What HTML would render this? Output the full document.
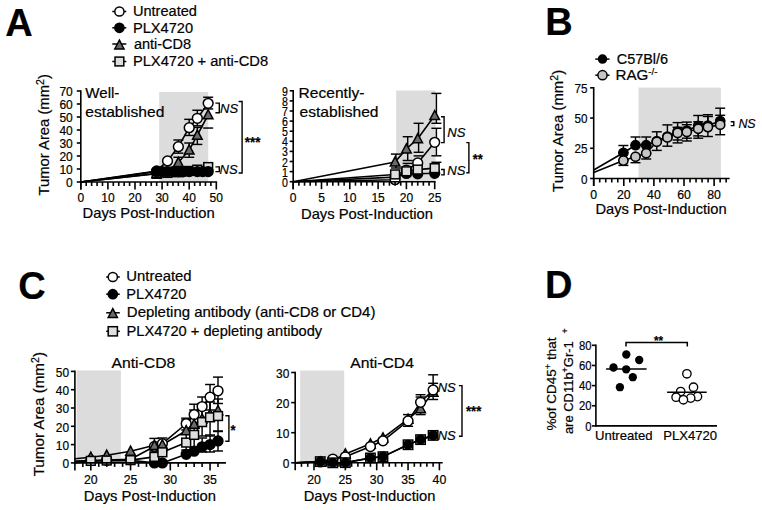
<!DOCTYPE html>
<html><head><meta charset="utf-8"><style>
html,body{margin:0;padding:0;background:#fff;width:762px;height:510px;overflow:hidden;}
body{position:relative;font-family:"Liberation Sans", sans-serif;}
</style></head><body>
<svg width="762" height="510" viewBox="0 0 762 510" style="position:absolute;left:0;top:0">
<style>text{stroke:#000;stroke-width:0.2px;paint-order:stroke}</style>
<g font-family='"Liberation Sans", sans-serif' fill="#000">
<text x="5.30" y="36.20" font-size="38" text-anchor="start" font-weight="bold" font-style="normal" >A</text>
<line x1="112.30" y1="11.50" x2="126.30" y2="11.50" stroke="#000" stroke-width="1.5"/>
<circle cx="119.40" cy="11.50" r="4.60" fill="#fff" stroke="#000" stroke-width="1.5"/>
<text x="0" y="0" font-size="14.5" font-weight="normal" font-style="normal" transform="translate(132.89,15.70) scale(1.0062,1)">Untreated</text>
<line x1="112.30" y1="27.80" x2="126.30" y2="27.80" stroke="#000" stroke-width="1.5"/>
<circle cx="119.40" cy="27.80" r="4.60" fill="#000" stroke="#000" stroke-width="1.5"/>
<text x="0" y="0" font-size="14.5" font-weight="normal" font-style="normal" transform="translate(132.89,32.50) scale(1.0085,1)">PLX4720</text>
<line x1="112.30" y1="44.00" x2="126.30" y2="44.00" stroke="#000" stroke-width="1.5"/>
<polygon points="119.40,40.17 124.00,48.91 114.80,48.91" fill="#6b6b6b" stroke="#000" stroke-width="1.5" stroke-linejoin="miter"/>
<text x="0" y="0" font-size="14.5" font-weight="normal" font-style="normal" transform="translate(133.90,48.60) scale(0.9991,1)">anti-CD8</text>
<line x1="112.30" y1="61.50" x2="126.30" y2="61.50" stroke="#000" stroke-width="1.5"/>
<rect x="115.00" y="57.10" width="8.80" height="8.80" fill="#dedede" stroke="#000" stroke-width="1.5"/>
<text x="0" y="0" font-size="14.5" font-weight="normal" font-style="normal" transform="translate(132.89,65.60) scale(1.0148,1)">PLX4720 + anti-CD8</text>
<rect x="159.20" y="92.00" width="49.00" height="90.00" fill="#dcdcdc"/>
<polyline points="80.80,182.00 156.68,173.81 167.52,172.90 178.36,172.25 189.20,170.95 197.33,169.65 208.17,167.05" fill="none" stroke="#000" stroke-width="1.6" stroke-linejoin="round"/>
<polyline points="80.80,182.00 156.68,171.60 162.10,171.60 167.52,171.60 172.94,171.60 178.36,171.60 183.78,171.60 189.20,171.60 197.33,171.60 202.75,171.60 208.17,171.60" fill="none" stroke="#000" stroke-width="1.6" stroke-linejoin="round"/>
<polyline points="80.80,182.00 156.68,173.55 167.52,171.60 178.36,162.50 189.20,150.02 197.33,135.20 208.17,114.79" fill="none" stroke="#000" stroke-width="1.6" stroke-linejoin="round"/>
<polyline points="80.80,182.00 156.68,170.95 167.52,160.94 178.36,146.64 189.20,127.66 197.33,118.30 208.17,103.35" fill="none" stroke="#000" stroke-width="1.6" stroke-linejoin="round"/>
<line x1="178.36" y1="140.01" x2="178.36" y2="153.14" stroke="#000" stroke-width="1.45"/>
<line x1="173.36" y1="140.01" x2="183.36" y2="140.01" stroke="#000" stroke-width="1.45"/>
<line x1="173.36" y1="153.14" x2="183.36" y2="153.14" stroke="#000" stroke-width="1.45"/>
<line x1="189.20" y1="119.34" x2="189.20" y2="135.46" stroke="#000" stroke-width="1.45"/>
<line x1="184.20" y1="119.34" x2="194.20" y2="119.34" stroke="#000" stroke-width="1.45"/>
<line x1="184.20" y1="135.46" x2="194.20" y2="135.46" stroke="#000" stroke-width="1.45"/>
<line x1="197.33" y1="110.24" x2="197.33" y2="125.84" stroke="#000" stroke-width="1.45"/>
<line x1="192.33" y1="110.24" x2="202.33" y2="110.24" stroke="#000" stroke-width="1.45"/>
<line x1="192.33" y1="125.84" x2="202.33" y2="125.84" stroke="#000" stroke-width="1.45"/>
<line x1="208.17" y1="97.24" x2="208.17" y2="108.94" stroke="#000" stroke-width="1.45"/>
<line x1="203.17" y1="97.24" x2="213.17" y2="97.24" stroke="#000" stroke-width="1.45"/>
<line x1="203.17" y1="108.94" x2="213.17" y2="108.94" stroke="#000" stroke-width="1.45"/>
<line x1="178.36" y1="157.30" x2="178.36" y2="167.70" stroke="#000" stroke-width="1.45"/>
<line x1="173.36" y1="157.30" x2="183.36" y2="157.30" stroke="#000" stroke-width="1.45"/>
<line x1="173.36" y1="167.70" x2="183.36" y2="167.70" stroke="#000" stroke-width="1.45"/>
<line x1="189.20" y1="143.00" x2="189.20" y2="157.30" stroke="#000" stroke-width="1.45"/>
<line x1="184.20" y1="143.00" x2="194.20" y2="143.00" stroke="#000" stroke-width="1.45"/>
<line x1="184.20" y1="157.30" x2="194.20" y2="157.30" stroke="#000" stroke-width="1.45"/>
<line x1="197.33" y1="127.40" x2="197.33" y2="144.43" stroke="#000" stroke-width="1.45"/>
<line x1="192.33" y1="127.40" x2="202.33" y2="127.40" stroke="#000" stroke-width="1.45"/>
<line x1="192.33" y1="144.43" x2="202.33" y2="144.43" stroke="#000" stroke-width="1.45"/>
<line x1="203.17" y1="128.05" x2="213.17" y2="128.05" stroke="#000" stroke-width="1.45"/>
<line x1="203.17" y1="163.80" x2="213.17" y2="163.80" stroke="#000" stroke-width="1.45"/>
<rect x="152.28" y="169.41" width="8.80" height="8.80" fill="#dedede" stroke="#000" stroke-width="1.5"/>
<rect x="163.12" y="168.50" width="8.80" height="8.80" fill="#dedede" stroke="#000" stroke-width="1.5"/>
<rect x="173.96" y="167.85" width="8.80" height="8.80" fill="#dedede" stroke="#000" stroke-width="1.5"/>
<rect x="184.80" y="166.55" width="8.80" height="8.80" fill="#dedede" stroke="#000" stroke-width="1.5"/>
<rect x="192.93" y="165.25" width="8.80" height="8.80" fill="#dedede" stroke="#000" stroke-width="1.5"/>
<rect x="203.77" y="162.65" width="8.80" height="8.80" fill="#dedede" stroke="#000" stroke-width="1.5"/>
<polygon points="156.68,168.51 161.48,177.63 151.88,177.63" fill="#6b6b6b" stroke="#000" stroke-width="1.5" stroke-linejoin="miter"/>
<polygon points="167.52,166.56 172.32,175.68 162.72,175.68" fill="#6b6b6b" stroke="#000" stroke-width="1.5" stroke-linejoin="miter"/>
<polygon points="178.36,157.46 183.16,166.58 173.56,166.58" fill="#6b6b6b" stroke="#000" stroke-width="1.5" stroke-linejoin="miter"/>
<polygon points="189.20,144.98 194.00,154.10 184.40,154.10" fill="#6b6b6b" stroke="#000" stroke-width="1.5" stroke-linejoin="miter"/>
<polygon points="197.33,130.16 202.13,139.28 192.53,139.28" fill="#6b6b6b" stroke="#000" stroke-width="1.5" stroke-linejoin="miter"/>
<polygon points="208.17,109.75 212.97,118.87 203.37,118.87" fill="#6b6b6b" stroke="#000" stroke-width="1.5" stroke-linejoin="miter"/>
<circle cx="156.68" cy="170.95" r="4.90" fill="#fff" stroke="#000" stroke-width="1.5"/>
<circle cx="167.52" cy="160.94" r="4.90" fill="#fff" stroke="#000" stroke-width="1.5"/>
<circle cx="178.36" cy="146.64" r="4.90" fill="#fff" stroke="#000" stroke-width="1.5"/>
<circle cx="189.20" cy="127.66" r="4.90" fill="#fff" stroke="#000" stroke-width="1.5"/>
<circle cx="197.33" cy="118.30" r="4.90" fill="#fff" stroke="#000" stroke-width="1.5"/>
<circle cx="208.17" cy="103.35" r="4.90" fill="#fff" stroke="#000" stroke-width="1.5"/>
<circle cx="156.68" cy="171.60" r="4.90" fill="#000" stroke="#000" stroke-width="1.5"/>
<circle cx="162.10" cy="171.60" r="4.90" fill="#000" stroke="#000" stroke-width="1.5"/>
<circle cx="167.52" cy="171.60" r="4.90" fill="#000" stroke="#000" stroke-width="1.5"/>
<circle cx="172.94" cy="171.60" r="4.90" fill="#000" stroke="#000" stroke-width="1.5"/>
<circle cx="178.36" cy="171.60" r="4.90" fill="#000" stroke="#000" stroke-width="1.5"/>
<circle cx="183.78" cy="171.60" r="4.90" fill="#000" stroke="#000" stroke-width="1.5"/>
<circle cx="189.20" cy="171.60" r="4.90" fill="#000" stroke="#000" stroke-width="1.5"/>
<circle cx="197.33" cy="171.60" r="4.90" fill="#000" stroke="#000" stroke-width="1.5"/>
<circle cx="202.75" cy="171.60" r="4.90" fill="#000" stroke="#000" stroke-width="1.5"/>
<circle cx="208.17" cy="171.60" r="4.90" fill="#000" stroke="#000" stroke-width="1.5"/>
<line x1="80.80" y1="90.20" x2="80.80" y2="189.50" stroke="#000" stroke-width="1.6"/>
<line x1="80.00" y1="182.00" x2="217.10" y2="182.00" stroke="#000" stroke-width="1.6"/>
<line x1="76.80" y1="182.00" x2="80.80" y2="182.00" stroke="#000" stroke-width="1.6"/>
<line x1="76.80" y1="169.00" x2="80.80" y2="169.00" stroke="#000" stroke-width="1.6"/>
<line x1="76.80" y1="156.00" x2="80.80" y2="156.00" stroke="#000" stroke-width="1.6"/>
<line x1="76.80" y1="143.00" x2="80.80" y2="143.00" stroke="#000" stroke-width="1.6"/>
<line x1="76.80" y1="130.00" x2="80.80" y2="130.00" stroke="#000" stroke-width="1.6"/>
<line x1="76.80" y1="117.00" x2="80.80" y2="117.00" stroke="#000" stroke-width="1.6"/>
<line x1="76.80" y1="104.00" x2="80.80" y2="104.00" stroke="#000" stroke-width="1.6"/>
<line x1="76.80" y1="91.00" x2="80.80" y2="91.00" stroke="#000" stroke-width="1.6"/>
<text x="72.80" y="187.10" font-size="12" text-anchor="end" font-weight="normal" font-style="normal" >0</text>
<text x="72.80" y="174.10" font-size="12" text-anchor="end" font-weight="normal" font-style="normal" >10</text>
<text x="72.80" y="161.10" font-size="12" text-anchor="end" font-weight="normal" font-style="normal" >20</text>
<text x="72.80" y="148.10" font-size="12" text-anchor="end" font-weight="normal" font-style="normal" >30</text>
<text x="72.80" y="135.10" font-size="12" text-anchor="end" font-weight="normal" font-style="normal" >40</text>
<text x="72.80" y="122.10" font-size="12" text-anchor="end" font-weight="normal" font-style="normal" >50</text>
<text x="72.80" y="109.10" font-size="12" text-anchor="end" font-weight="normal" font-style="normal" >60</text>
<text x="72.80" y="96.10" font-size="12" text-anchor="end" font-weight="normal" font-style="normal" >70</text>
<line x1="80.80" y1="182.00" x2="80.80" y2="189.50" stroke="#000" stroke-width="1.6"/>
<line x1="107.90" y1="182.00" x2="107.90" y2="189.50" stroke="#000" stroke-width="1.6"/>
<line x1="135.00" y1="182.00" x2="135.00" y2="189.50" stroke="#000" stroke-width="1.6"/>
<line x1="162.10" y1="182.00" x2="162.10" y2="189.50" stroke="#000" stroke-width="1.6"/>
<line x1="189.20" y1="182.00" x2="189.20" y2="189.50" stroke="#000" stroke-width="1.6"/>
<line x1="216.30" y1="182.00" x2="216.30" y2="189.50" stroke="#000" stroke-width="1.6"/>
<line x1="86.22" y1="182.00" x2="86.22" y2="186.00" stroke="#000" stroke-width="1.6"/>
<line x1="91.64" y1="182.00" x2="91.64" y2="186.00" stroke="#000" stroke-width="1.6"/>
<line x1="97.06" y1="182.00" x2="97.06" y2="186.00" stroke="#000" stroke-width="1.6"/>
<line x1="102.48" y1="182.00" x2="102.48" y2="186.00" stroke="#000" stroke-width="1.6"/>
<line x1="113.32" y1="182.00" x2="113.32" y2="186.00" stroke="#000" stroke-width="1.6"/>
<line x1="118.74" y1="182.00" x2="118.74" y2="186.00" stroke="#000" stroke-width="1.6"/>
<line x1="124.16" y1="182.00" x2="124.16" y2="186.00" stroke="#000" stroke-width="1.6"/>
<line x1="129.58" y1="182.00" x2="129.58" y2="186.00" stroke="#000" stroke-width="1.6"/>
<line x1="140.42" y1="182.00" x2="140.42" y2="186.00" stroke="#000" stroke-width="1.6"/>
<line x1="145.84" y1="182.00" x2="145.84" y2="186.00" stroke="#000" stroke-width="1.6"/>
<line x1="151.26" y1="182.00" x2="151.26" y2="186.00" stroke="#000" stroke-width="1.6"/>
<line x1="156.68" y1="182.00" x2="156.68" y2="186.00" stroke="#000" stroke-width="1.6"/>
<line x1="167.52" y1="182.00" x2="167.52" y2="186.00" stroke="#000" stroke-width="1.6"/>
<line x1="172.94" y1="182.00" x2="172.94" y2="186.00" stroke="#000" stroke-width="1.6"/>
<line x1="178.36" y1="182.00" x2="178.36" y2="186.00" stroke="#000" stroke-width="1.6"/>
<line x1="183.78" y1="182.00" x2="183.78" y2="186.00" stroke="#000" stroke-width="1.6"/>
<line x1="194.62" y1="182.00" x2="194.62" y2="186.00" stroke="#000" stroke-width="1.6"/>
<line x1="200.04" y1="182.00" x2="200.04" y2="186.00" stroke="#000" stroke-width="1.6"/>
<line x1="205.46" y1="182.00" x2="205.46" y2="186.00" stroke="#000" stroke-width="1.6"/>
<line x1="210.88" y1="182.00" x2="210.88" y2="186.00" stroke="#000" stroke-width="1.6"/>
<text x="80.80" y="202.00" font-size="12" text-anchor="middle" font-weight="normal" font-style="normal" >0</text>
<text x="107.90" y="202.00" font-size="12" text-anchor="middle" font-weight="normal" font-style="normal" >10</text>
<text x="135.00" y="202.00" font-size="12" text-anchor="middle" font-weight="normal" font-style="normal" >20</text>
<text x="162.10" y="202.00" font-size="12" text-anchor="middle" font-weight="normal" font-style="normal" >30</text>
<text x="189.20" y="202.00" font-size="12" text-anchor="middle" font-weight="normal" font-style="normal" >40</text>
<text x="216.30" y="202.00" font-size="12" text-anchor="middle" font-weight="normal" font-style="normal" >50</text>
<text x="0" y="0" font-size="14.3" font-weight="normal" font-style="normal" transform="translate(85.30,97.90) scale(1.0541,1)">Well-</text>
<text x="0" y="0" font-size="14.3" font-weight="normal" font-style="normal" transform="translate(85.30,117.00) scale(1.0929,1)">established</text>
<text x="0" y="0" font-size="14.6" font-weight="normal" font-style="normal" transform="translate(82.59,217.60) scale(1.0110,1)">Days Post-Induction</text>
<text x="0" y="0" font-size="14.8" text-anchor="middle" transform="translate(49.20,134.80) rotate(-90)">Tumor Area (mm<tspan dy="-4.8" font-size="10.6">2</tspan><tspan dy="4.8">)</tspan></text>
<polyline points="215.40,103.10 219.30,103.10 219.30,112.80 215.40,112.80" fill="none" stroke="#000" stroke-width="1.4" stroke-linejoin="miter"/>
<text x="0" y="0" font-size="12.8" font-weight="normal" font-style="italic" transform="translate(220.10,113.40) scale(1.0142,1)">NS</text>
<polyline points="215.40,166.90 219.30,166.90 219.30,171.60 215.40,171.60" fill="none" stroke="#000" stroke-width="1.4" stroke-linejoin="miter"/>
<text x="0" y="0" font-size="12.8" font-weight="normal" font-style="italic" transform="translate(219.60,173.80) scale(1.0142,1)">NS</text>
<polyline points="238.60,101.50 242.10,101.50 242.10,173.00 238.60,173.00" fill="none" stroke="#000" stroke-width="1.4" stroke-linejoin="miter"/>
<text x="0" y="0" font-size="14" font-weight="bold" font-style="normal" transform="translate(244.80,147.00) scale(0.9588,1)">***</text>
<rect x="396.20" y="90.50" width="39.40" height="91.20" fill="#dcdcdc"/>
<polyline points="293.20,181.70 395.08,177.16 406.40,173.42 417.72,173.82 434.70,173.32" fill="none" stroke="#000" stroke-width="1.6" stroke-linejoin="round"/>
<polyline points="293.20,181.70 395.08,174.43 406.40,171.30 417.72,169.58 434.70,168.17" fill="none" stroke="#000" stroke-width="1.6" stroke-linejoin="round"/>
<polyline points="293.20,181.70 395.08,179.68 406.40,170.08 417.72,163.01 434.70,142.31" fill="none" stroke="#000" stroke-width="1.6" stroke-linejoin="round"/>
<polyline points="293.20,181.70 395.08,162.00 406.40,148.88 417.72,138.77 434.70,115.54" fill="none" stroke="#000" stroke-width="1.6" stroke-linejoin="round"/>
<line x1="395.90" y1="154.10" x2="395.90" y2="168.00" stroke="#000" stroke-width="1.45"/>
<line x1="390.90" y1="154.10" x2="400.90" y2="154.10" stroke="#000" stroke-width="1.45"/>
<line x1="390.90" y1="168.00" x2="400.90" y2="168.00" stroke="#000" stroke-width="1.45"/>
<line x1="407.70" y1="136.70" x2="407.70" y2="160.50" stroke="#000" stroke-width="1.45"/>
<line x1="402.70" y1="136.70" x2="412.70" y2="136.70" stroke="#000" stroke-width="1.45"/>
<line x1="402.70" y1="160.50" x2="412.70" y2="160.50" stroke="#000" stroke-width="1.45"/>
<line x1="418.60" y1="123.30" x2="418.60" y2="152.30" stroke="#000" stroke-width="1.45"/>
<line x1="413.60" y1="123.30" x2="423.60" y2="123.30" stroke="#000" stroke-width="1.45"/>
<line x1="413.60" y1="152.30" x2="423.60" y2="152.30" stroke="#000" stroke-width="1.45"/>
<line x1="436.40" y1="93.40" x2="436.40" y2="123.30" stroke="#000" stroke-width="1.45"/>
<line x1="431.40" y1="93.40" x2="441.40" y2="93.40" stroke="#000" stroke-width="1.45"/>
<line x1="431.40" y1="123.30" x2="441.40" y2="123.30" stroke="#000" stroke-width="1.45"/>
<line x1="402.70" y1="163.40" x2="412.70" y2="163.40" stroke="#000" stroke-width="1.45"/>
<line x1="413.60" y1="155.90" x2="423.60" y2="155.90" stroke="#000" stroke-width="1.45"/>
<line x1="436.40" y1="128.30" x2="436.40" y2="155.80" stroke="#000" stroke-width="1.45"/>
<line x1="431.40" y1="128.30" x2="441.40" y2="128.30" stroke="#000" stroke-width="1.45"/>
<line x1="431.40" y1="155.80" x2="441.40" y2="155.80" stroke="#000" stroke-width="1.45"/>
<line x1="431.40" y1="162.30" x2="441.40" y2="162.30" stroke="#000" stroke-width="1.45"/>
<circle cx="395.08" cy="177.16" r="4.90" fill="#000" stroke="#000" stroke-width="1.5"/>
<circle cx="406.40" cy="173.42" r="4.90" fill="#000" stroke="#000" stroke-width="1.5"/>
<circle cx="417.72" cy="173.82" r="4.90" fill="#000" stroke="#000" stroke-width="1.5"/>
<circle cx="434.70" cy="173.32" r="4.90" fill="#000" stroke="#000" stroke-width="1.5"/>
<circle cx="395.08" cy="179.68" r="4.90" fill="#fff" stroke="#000" stroke-width="1.5"/>
<circle cx="406.40" cy="170.08" r="4.90" fill="#fff" stroke="#000" stroke-width="1.5"/>
<circle cx="417.72" cy="163.01" r="4.90" fill="#fff" stroke="#000" stroke-width="1.5"/>
<circle cx="434.70" cy="142.31" r="4.90" fill="#fff" stroke="#000" stroke-width="1.5"/>
<rect x="390.68" y="170.03" width="8.80" height="8.80" fill="#dedede" stroke="#000" stroke-width="1.5"/>
<rect x="402.00" y="166.90" width="8.80" height="8.80" fill="#dedede" stroke="#000" stroke-width="1.5"/>
<rect x="413.32" y="165.18" width="8.80" height="8.80" fill="#dedede" stroke="#000" stroke-width="1.5"/>
<rect x="430.30" y="163.77" width="8.80" height="8.80" fill="#dedede" stroke="#000" stroke-width="1.5"/>
<polygon points="395.08,156.97 399.88,166.09 390.28,166.09" fill="#6b6b6b" stroke="#000" stroke-width="1.5" stroke-linejoin="miter"/>
<polygon points="406.40,143.84 411.20,152.96 401.60,152.96" fill="#6b6b6b" stroke="#000" stroke-width="1.5" stroke-linejoin="miter"/>
<polygon points="417.72,133.73 422.52,142.85 412.92,142.85" fill="#6b6b6b" stroke="#000" stroke-width="1.5" stroke-linejoin="miter"/>
<polygon points="434.70,110.50 439.50,119.62 429.90,119.62" fill="#6b6b6b" stroke="#000" stroke-width="1.5" stroke-linejoin="miter"/>
<line x1="293.20" y1="90.00" x2="293.20" y2="189.20" stroke="#000" stroke-width="1.6"/>
<line x1="292.40" y1="181.70" x2="435.50" y2="181.70" stroke="#000" stroke-width="1.6"/>
<line x1="289.70" y1="181.70" x2="293.20" y2="181.70" stroke="#000" stroke-width="1.6"/>
<line x1="289.70" y1="171.60" x2="293.20" y2="171.60" stroke="#000" stroke-width="1.6"/>
<line x1="289.70" y1="161.50" x2="293.20" y2="161.50" stroke="#000" stroke-width="1.6"/>
<line x1="289.70" y1="151.40" x2="293.20" y2="151.40" stroke="#000" stroke-width="1.6"/>
<line x1="289.70" y1="141.30" x2="293.20" y2="141.30" stroke="#000" stroke-width="1.6"/>
<line x1="289.70" y1="131.20" x2="293.20" y2="131.20" stroke="#000" stroke-width="1.6"/>
<line x1="289.70" y1="121.10" x2="293.20" y2="121.10" stroke="#000" stroke-width="1.6"/>
<line x1="289.70" y1="111.00" x2="293.20" y2="111.00" stroke="#000" stroke-width="1.6"/>
<line x1="289.70" y1="100.90" x2="293.20" y2="100.90" stroke="#000" stroke-width="1.6"/>
<line x1="289.70" y1="90.80" x2="293.20" y2="90.80" stroke="#000" stroke-width="1.6"/>
<text x="0" y="0" font-size="12" text-anchor="end" font-weight="normal" font-style="normal" transform="translate(288.00,186.70) scale(0.88,1)" >0</text>
<text x="0" y="0" font-size="12" text-anchor="end" font-weight="normal" font-style="normal" transform="translate(288.00,176.60) scale(0.88,1)" >1</text>
<text x="0" y="0" font-size="12" text-anchor="end" font-weight="normal" font-style="normal" transform="translate(288.00,166.50) scale(0.88,1)" >2</text>
<text x="0" y="0" font-size="12" text-anchor="end" font-weight="normal" font-style="normal" transform="translate(288.00,156.40) scale(0.88,1)" >3</text>
<text x="0" y="0" font-size="12" text-anchor="end" font-weight="normal" font-style="normal" transform="translate(288.00,146.30) scale(0.88,1)" >4</text>
<text x="0" y="0" font-size="12" text-anchor="end" font-weight="normal" font-style="normal" transform="translate(288.00,136.20) scale(0.88,1)" >5</text>
<text x="0" y="0" font-size="12" text-anchor="end" font-weight="normal" font-style="normal" transform="translate(288.00,126.10) scale(0.88,1)" >6</text>
<text x="0" y="0" font-size="12" text-anchor="end" font-weight="normal" font-style="normal" transform="translate(288.00,116.00) scale(0.88,1)" >7</text>
<text x="0" y="0" font-size="12" text-anchor="end" font-weight="normal" font-style="normal" transform="translate(288.00,105.90) scale(0.88,1)" >8</text>
<text x="0" y="0" font-size="12" text-anchor="end" font-weight="normal" font-style="normal" transform="translate(288.00,95.80) scale(0.88,1)" >9</text>
<line x1="293.20" y1="181.70" x2="293.20" y2="189.20" stroke="#000" stroke-width="1.6"/>
<line x1="321.50" y1="181.70" x2="321.50" y2="189.20" stroke="#000" stroke-width="1.6"/>
<line x1="349.80" y1="181.70" x2="349.80" y2="189.20" stroke="#000" stroke-width="1.6"/>
<line x1="378.10" y1="181.70" x2="378.10" y2="189.20" stroke="#000" stroke-width="1.6"/>
<line x1="406.40" y1="181.70" x2="406.40" y2="189.20" stroke="#000" stroke-width="1.6"/>
<line x1="434.70" y1="181.70" x2="434.70" y2="189.20" stroke="#000" stroke-width="1.6"/>
<line x1="298.86" y1="181.70" x2="298.86" y2="185.70" stroke="#000" stroke-width="1.6"/>
<line x1="304.52" y1="181.70" x2="304.52" y2="185.70" stroke="#000" stroke-width="1.6"/>
<line x1="310.18" y1="181.70" x2="310.18" y2="185.70" stroke="#000" stroke-width="1.6"/>
<line x1="315.84" y1="181.70" x2="315.84" y2="185.70" stroke="#000" stroke-width="1.6"/>
<line x1="327.16" y1="181.70" x2="327.16" y2="185.70" stroke="#000" stroke-width="1.6"/>
<line x1="332.82" y1="181.70" x2="332.82" y2="185.70" stroke="#000" stroke-width="1.6"/>
<line x1="338.48" y1="181.70" x2="338.48" y2="185.70" stroke="#000" stroke-width="1.6"/>
<line x1="344.14" y1="181.70" x2="344.14" y2="185.70" stroke="#000" stroke-width="1.6"/>
<line x1="355.46" y1="181.70" x2="355.46" y2="185.70" stroke="#000" stroke-width="1.6"/>
<line x1="361.12" y1="181.70" x2="361.12" y2="185.70" stroke="#000" stroke-width="1.6"/>
<line x1="366.78" y1="181.70" x2="366.78" y2="185.70" stroke="#000" stroke-width="1.6"/>
<line x1="372.44" y1="181.70" x2="372.44" y2="185.70" stroke="#000" stroke-width="1.6"/>
<line x1="383.76" y1="181.70" x2="383.76" y2="185.70" stroke="#000" stroke-width="1.6"/>
<line x1="389.42" y1="181.70" x2="389.42" y2="185.70" stroke="#000" stroke-width="1.6"/>
<line x1="395.08" y1="181.70" x2="395.08" y2="185.70" stroke="#000" stroke-width="1.6"/>
<line x1="400.74" y1="181.70" x2="400.74" y2="185.70" stroke="#000" stroke-width="1.6"/>
<line x1="412.06" y1="181.70" x2="412.06" y2="185.70" stroke="#000" stroke-width="1.6"/>
<line x1="417.72" y1="181.70" x2="417.72" y2="185.70" stroke="#000" stroke-width="1.6"/>
<line x1="423.38" y1="181.70" x2="423.38" y2="185.70" stroke="#000" stroke-width="1.6"/>
<line x1="429.04" y1="181.70" x2="429.04" y2="185.70" stroke="#000" stroke-width="1.6"/>
<text x="293.20" y="202.30" font-size="12" text-anchor="middle" font-weight="normal" font-style="normal" >0</text>
<text x="321.50" y="202.30" font-size="12" text-anchor="middle" font-weight="normal" font-style="normal" >5</text>
<text x="349.80" y="202.30" font-size="12" text-anchor="middle" font-weight="normal" font-style="normal" >10</text>
<text x="378.10" y="202.30" font-size="12" text-anchor="middle" font-weight="normal" font-style="normal" >15</text>
<text x="406.40" y="202.30" font-size="12" text-anchor="middle" font-weight="normal" font-style="normal" >20</text>
<text x="434.70" y="202.30" font-size="12" text-anchor="middle" font-weight="normal" font-style="normal" >25</text>
<text x="0" y="0" font-size="14.3" font-weight="normal" font-style="normal" transform="translate(298.61,98.00) scale(1.0902,1)">Recently-</text>
<text x="0" y="0" font-size="14.3" font-weight="normal" font-style="normal" transform="translate(299.50,116.90) scale(1.0929,1)">established</text>
<text x="0" y="0" font-size="14.6" font-weight="normal" font-style="normal" transform="translate(300.99,218.50) scale(1.0110,1)">Days Post-Induction</text>
<polyline points="441.00,116.70 444.10,116.70 444.10,142.60 441.00,142.60" fill="none" stroke="#000" stroke-width="1.4" stroke-linejoin="miter"/>
<text x="0" y="0" font-size="12.8" font-weight="normal" font-style="italic" transform="translate(447.30,136.50) scale(1.0197,1)">NS</text>
<polyline points="441.00,169.50 444.10,169.50 444.10,174.90 441.00,174.90" fill="none" stroke="#000" stroke-width="1.4" stroke-linejoin="miter"/>
<text x="0" y="0" font-size="12.8" font-weight="normal" font-style="italic" transform="translate(447.30,174.90) scale(1.0197,1)">NS</text>
<polyline points="466.30,142.60 468.90,142.60 468.90,172.80 466.30,172.80" fill="none" stroke="#000" stroke-width="1.4" stroke-linejoin="miter"/>
<text x="0" y="0" font-size="14" font-weight="bold" font-style="normal" transform="translate(472.80,164.30) scale(0.9172,1)">**</text>
<text x="545.30" y="35.40" font-size="38" text-anchor="start" font-weight="bold" font-style="normal" >B</text>
<line x1="595.30" y1="59.10" x2="609.50" y2="59.10" stroke="#000" stroke-width="1.5"/>
<circle cx="602.50" cy="59.10" r="4.00" fill="#000" stroke="#000" stroke-width="1.5"/>
<line x1="595.30" y1="75.20" x2="609.50" y2="75.20" stroke="#000" stroke-width="1.5"/>
<circle cx="602.50" cy="75.20" r="4.60" fill="#c6c6c6" stroke="#000" stroke-width="1.5"/>
<text x="0" y="0" font-size="13.8" font-weight="normal" font-style="normal" transform="translate(616.70,63.70) scale(1.0484,1)">C57Bl/6</text>
<text x="0" y="0" font-size="13.8" font-weight="normal" font-style="normal" transform="translate(615.50,80.10) scale(1.1006,1)">RAG</text>
<text x="0" y="0" font-size="9.5" font-weight="normal" font-style="normal" transform="translate(648.30,74.60) scale(1.0224,1)">-/-</text>
<rect x="638.50" y="87.60" width="82.40" height="90.90" fill="#dcdcdc"/>
<polyline points="593.70,170.00 623.40,152.80 635.50,145.20 646.20,145.20 656.80,141.00 667.40,136.50 677.60,131.50 686.80,130.50 698.20,125.80 707.90,125.50 720.20,121.00" fill="none" stroke="#000" stroke-width="1.6" stroke-linejoin="round"/>
<polyline points="593.70,172.60 623.40,160.60 635.50,156.70 646.20,153.20 656.80,141.80 667.40,137.40 677.60,132.90 686.80,132.00 698.20,128.80 707.90,127.10 720.20,124.70" fill="none" stroke="#000" stroke-width="1.6" stroke-linejoin="round"/>
<line x1="623.40" y1="145.50" x2="623.40" y2="152.80" stroke="#000" stroke-width="1.45"/>
<line x1="618.40" y1="145.50" x2="628.40" y2="145.50" stroke="#000" stroke-width="1.45"/>
<line x1="618.40" y1="152.80" x2="628.40" y2="152.80" stroke="#000" stroke-width="1.45"/>
<line x1="635.50" y1="137.00" x2="635.50" y2="145.20" stroke="#000" stroke-width="1.45"/>
<line x1="630.50" y1="137.00" x2="640.50" y2="137.00" stroke="#000" stroke-width="1.45"/>
<line x1="630.50" y1="145.20" x2="640.50" y2="145.20" stroke="#000" stroke-width="1.45"/>
<line x1="646.20" y1="137.00" x2="646.20" y2="145.20" stroke="#000" stroke-width="1.45"/>
<line x1="641.20" y1="137.00" x2="651.20" y2="137.00" stroke="#000" stroke-width="1.45"/>
<line x1="641.20" y1="145.20" x2="651.20" y2="145.20" stroke="#000" stroke-width="1.45"/>
<line x1="656.80" y1="131.80" x2="656.80" y2="141.00" stroke="#000" stroke-width="1.45"/>
<line x1="651.80" y1="131.80" x2="661.80" y2="131.80" stroke="#000" stroke-width="1.45"/>
<line x1="651.80" y1="141.00" x2="661.80" y2="141.00" stroke="#000" stroke-width="1.45"/>
<line x1="667.40" y1="124.90" x2="667.40" y2="136.50" stroke="#000" stroke-width="1.45"/>
<line x1="662.40" y1="124.90" x2="672.40" y2="124.90" stroke="#000" stroke-width="1.45"/>
<line x1="662.40" y1="136.50" x2="672.40" y2="136.50" stroke="#000" stroke-width="1.45"/>
<line x1="677.60" y1="127.30" x2="677.60" y2="140.00" stroke="#000" stroke-width="1.45"/>
<line x1="672.60" y1="127.30" x2="682.60" y2="127.30" stroke="#000" stroke-width="1.45"/>
<line x1="672.60" y1="140.00" x2="682.60" y2="140.00" stroke="#000" stroke-width="1.45"/>
<line x1="686.80" y1="124.70" x2="686.80" y2="138.20" stroke="#000" stroke-width="1.45"/>
<line x1="681.80" y1="124.70" x2="691.80" y2="124.70" stroke="#000" stroke-width="1.45"/>
<line x1="681.80" y1="138.20" x2="691.80" y2="138.20" stroke="#000" stroke-width="1.45"/>
<line x1="698.20" y1="115.50" x2="698.20" y2="135.90" stroke="#000" stroke-width="1.45"/>
<line x1="693.20" y1="115.50" x2="703.20" y2="115.50" stroke="#000" stroke-width="1.45"/>
<line x1="693.20" y1="135.90" x2="703.20" y2="135.90" stroke="#000" stroke-width="1.45"/>
<line x1="707.90" y1="116.50" x2="707.90" y2="125.50" stroke="#000" stroke-width="1.45"/>
<line x1="702.90" y1="116.50" x2="712.90" y2="116.50" stroke="#000" stroke-width="1.45"/>
<line x1="702.90" y1="125.50" x2="712.90" y2="125.50" stroke="#000" stroke-width="1.45"/>
<line x1="720.20" y1="108.20" x2="720.20" y2="121.00" stroke="#000" stroke-width="1.45"/>
<line x1="715.20" y1="108.20" x2="725.20" y2="108.20" stroke="#000" stroke-width="1.45"/>
<line x1="715.20" y1="121.00" x2="725.20" y2="121.00" stroke="#000" stroke-width="1.45"/>
<line x1="623.40" y1="160.60" x2="623.40" y2="165.40" stroke="#000" stroke-width="1.45"/>
<line x1="618.40" y1="160.60" x2="628.40" y2="160.60" stroke="#000" stroke-width="1.45"/>
<line x1="618.40" y1="165.40" x2="628.40" y2="165.40" stroke="#000" stroke-width="1.45"/>
<line x1="635.50" y1="156.70" x2="635.50" y2="162.70" stroke="#000" stroke-width="1.45"/>
<line x1="630.50" y1="156.70" x2="640.50" y2="156.70" stroke="#000" stroke-width="1.45"/>
<line x1="630.50" y1="162.70" x2="640.50" y2="162.70" stroke="#000" stroke-width="1.45"/>
<line x1="646.20" y1="153.20" x2="646.20" y2="159.00" stroke="#000" stroke-width="1.45"/>
<line x1="641.20" y1="153.20" x2="651.20" y2="153.20" stroke="#000" stroke-width="1.45"/>
<line x1="641.20" y1="159.00" x2="651.20" y2="159.00" stroke="#000" stroke-width="1.45"/>
<line x1="656.80" y1="141.80" x2="656.80" y2="150.40" stroke="#000" stroke-width="1.45"/>
<line x1="651.80" y1="141.80" x2="661.80" y2="141.80" stroke="#000" stroke-width="1.45"/>
<line x1="651.80" y1="150.40" x2="661.80" y2="150.40" stroke="#000" stroke-width="1.45"/>
<line x1="667.40" y1="137.40" x2="667.40" y2="146.20" stroke="#000" stroke-width="1.45"/>
<line x1="662.40" y1="137.40" x2="672.40" y2="137.40" stroke="#000" stroke-width="1.45"/>
<line x1="662.40" y1="146.20" x2="672.40" y2="146.20" stroke="#000" stroke-width="1.45"/>
<line x1="677.60" y1="122.60" x2="677.60" y2="142.90" stroke="#000" stroke-width="1.45"/>
<line x1="672.60" y1="122.60" x2="682.60" y2="122.60" stroke="#000" stroke-width="1.45"/>
<line x1="672.60" y1="142.90" x2="682.60" y2="142.90" stroke="#000" stroke-width="1.45"/>
<line x1="686.80" y1="122.10" x2="686.80" y2="141.00" stroke="#000" stroke-width="1.45"/>
<line x1="681.80" y1="122.10" x2="691.80" y2="122.10" stroke="#000" stroke-width="1.45"/>
<line x1="681.80" y1="141.00" x2="691.80" y2="141.00" stroke="#000" stroke-width="1.45"/>
<line x1="698.20" y1="121.80" x2="698.20" y2="138.20" stroke="#000" stroke-width="1.45"/>
<line x1="693.20" y1="121.80" x2="703.20" y2="121.80" stroke="#000" stroke-width="1.45"/>
<line x1="693.20" y1="138.20" x2="703.20" y2="138.20" stroke="#000" stroke-width="1.45"/>
<line x1="707.90" y1="114.70" x2="707.90" y2="136.50" stroke="#000" stroke-width="1.45"/>
<line x1="702.90" y1="114.70" x2="712.90" y2="114.70" stroke="#000" stroke-width="1.45"/>
<line x1="702.90" y1="136.50" x2="712.90" y2="136.50" stroke="#000" stroke-width="1.45"/>
<line x1="720.20" y1="115.30" x2="720.20" y2="134.70" stroke="#000" stroke-width="1.45"/>
<line x1="715.20" y1="115.30" x2="725.20" y2="115.30" stroke="#000" stroke-width="1.45"/>
<line x1="715.20" y1="134.70" x2="725.20" y2="134.70" stroke="#000" stroke-width="1.45"/>
<circle cx="623.40" cy="152.80" r="4.60" fill="#000" stroke="#000" stroke-width="1.5"/>
<circle cx="635.50" cy="145.20" r="4.60" fill="#000" stroke="#000" stroke-width="1.5"/>
<circle cx="646.20" cy="145.20" r="4.60" fill="#000" stroke="#000" stroke-width="1.5"/>
<circle cx="656.80" cy="141.00" r="4.60" fill="#000" stroke="#000" stroke-width="1.5"/>
<circle cx="667.40" cy="136.50" r="4.60" fill="#000" stroke="#000" stroke-width="1.5"/>
<circle cx="677.60" cy="131.50" r="4.60" fill="#000" stroke="#000" stroke-width="1.5"/>
<circle cx="686.80" cy="130.50" r="4.60" fill="#000" stroke="#000" stroke-width="1.5"/>
<circle cx="698.20" cy="125.80" r="4.60" fill="#000" stroke="#000" stroke-width="1.5"/>
<circle cx="707.90" cy="125.50" r="4.60" fill="#000" stroke="#000" stroke-width="1.5"/>
<circle cx="720.20" cy="121.00" r="4.60" fill="#000" stroke="#000" stroke-width="1.5"/>
<circle cx="623.40" cy="160.60" r="4.60" fill="#c6c6c6" stroke="#000" stroke-width="1.6"/>
<circle cx="635.50" cy="156.70" r="4.60" fill="#c6c6c6" stroke="#000" stroke-width="1.6"/>
<circle cx="646.20" cy="153.20" r="4.60" fill="#c6c6c6" stroke="#000" stroke-width="1.6"/>
<circle cx="656.80" cy="141.80" r="4.60" fill="#c6c6c6" stroke="#000" stroke-width="1.6"/>
<circle cx="667.40" cy="137.40" r="4.60" fill="#c6c6c6" stroke="#000" stroke-width="1.6"/>
<circle cx="677.60" cy="132.90" r="4.60" fill="#c6c6c6" stroke="#000" stroke-width="1.6"/>
<circle cx="686.80" cy="132.00" r="4.60" fill="#c6c6c6" stroke="#000" stroke-width="1.6"/>
<circle cx="698.20" cy="128.80" r="4.60" fill="#c6c6c6" stroke="#000" stroke-width="1.6"/>
<circle cx="707.90" cy="127.10" r="4.60" fill="#c6c6c6" stroke="#000" stroke-width="1.6"/>
<circle cx="720.20" cy="124.70" r="4.60" fill="#c6c6c6" stroke="#000" stroke-width="1.6"/>
<line x1="593.70" y1="87.02" x2="593.70" y2="186.00" stroke="#000" stroke-width="1.6"/>
<line x1="592.90" y1="178.50" x2="729.65" y2="178.50" stroke="#000" stroke-width="1.6"/>
<line x1="590.10" y1="178.50" x2="593.70" y2="178.50" stroke="#000" stroke-width="1.6"/>
<line x1="590.10" y1="148.28" x2="593.70" y2="148.28" stroke="#000" stroke-width="1.6"/>
<line x1="590.10" y1="118.05" x2="593.70" y2="118.05" stroke="#000" stroke-width="1.6"/>
<line x1="590.10" y1="87.82" x2="593.70" y2="87.82" stroke="#000" stroke-width="1.6"/>
<text x="0" y="0" font-size="12.3" text-anchor="end" font-weight="normal" font-style="normal" transform="translate(587.40,183.60) scale(0.95,1)" >0</text>
<text x="0" y="0" font-size="12.3" text-anchor="end" font-weight="normal" font-style="normal" transform="translate(587.40,153.38) scale(0.95,1)" >25</text>
<text x="0" y="0" font-size="12.3" text-anchor="end" font-weight="normal" font-style="normal" transform="translate(587.40,123.15) scale(0.95,1)" >50</text>
<text x="0" y="0" font-size="12.3" text-anchor="end" font-weight="normal" font-style="normal" transform="translate(587.40,92.92) scale(0.95,1)" >75</text>
<line x1="593.70" y1="178.50" x2="593.70" y2="186.00" stroke="#000" stroke-width="1.6"/>
<line x1="623.80" y1="178.50" x2="623.80" y2="186.00" stroke="#000" stroke-width="1.6"/>
<line x1="653.90" y1="178.50" x2="653.90" y2="186.00" stroke="#000" stroke-width="1.6"/>
<line x1="684.00" y1="178.50" x2="684.00" y2="186.00" stroke="#000" stroke-width="1.6"/>
<line x1="714.10" y1="178.50" x2="714.10" y2="186.00" stroke="#000" stroke-width="1.6"/>
<line x1="599.72" y1="178.50" x2="599.72" y2="182.50" stroke="#000" stroke-width="1.6"/>
<line x1="605.74" y1="178.50" x2="605.74" y2="182.50" stroke="#000" stroke-width="1.6"/>
<line x1="611.76" y1="178.50" x2="611.76" y2="182.50" stroke="#000" stroke-width="1.6"/>
<line x1="617.78" y1="178.50" x2="617.78" y2="182.50" stroke="#000" stroke-width="1.6"/>
<line x1="629.82" y1="178.50" x2="629.82" y2="182.50" stroke="#000" stroke-width="1.6"/>
<line x1="635.84" y1="178.50" x2="635.84" y2="182.50" stroke="#000" stroke-width="1.6"/>
<line x1="641.86" y1="178.50" x2="641.86" y2="182.50" stroke="#000" stroke-width="1.6"/>
<line x1="647.88" y1="178.50" x2="647.88" y2="182.50" stroke="#000" stroke-width="1.6"/>
<line x1="659.92" y1="178.50" x2="659.92" y2="182.50" stroke="#000" stroke-width="1.6"/>
<line x1="665.94" y1="178.50" x2="665.94" y2="182.50" stroke="#000" stroke-width="1.6"/>
<line x1="671.96" y1="178.50" x2="671.96" y2="182.50" stroke="#000" stroke-width="1.6"/>
<line x1="677.98" y1="178.50" x2="677.98" y2="182.50" stroke="#000" stroke-width="1.6"/>
<line x1="690.02" y1="178.50" x2="690.02" y2="182.50" stroke="#000" stroke-width="1.6"/>
<line x1="696.04" y1="178.50" x2="696.04" y2="182.50" stroke="#000" stroke-width="1.6"/>
<line x1="702.06" y1="178.50" x2="702.06" y2="182.50" stroke="#000" stroke-width="1.6"/>
<line x1="708.08" y1="178.50" x2="708.08" y2="182.50" stroke="#000" stroke-width="1.6"/>
<line x1="720.12" y1="178.50" x2="720.12" y2="182.50" stroke="#000" stroke-width="1.6"/>
<line x1="726.14" y1="178.50" x2="726.14" y2="182.50" stroke="#000" stroke-width="1.6"/>
<text x="593.70" y="198.50" font-size="12.3" text-anchor="middle" font-weight="normal" font-style="normal" >0</text>
<text x="623.80" y="198.50" font-size="12.3" text-anchor="middle" font-weight="normal" font-style="normal" >20</text>
<text x="653.90" y="198.50" font-size="12.3" text-anchor="middle" font-weight="normal" font-style="normal" >40</text>
<text x="684.00" y="198.50" font-size="12.3" text-anchor="middle" font-weight="normal" font-style="normal" >60</text>
<text x="714.10" y="198.50" font-size="12.3" text-anchor="middle" font-weight="normal" font-style="normal" >80</text>
<text x="0" y="0" font-size="14.6" font-weight="normal" font-style="normal" transform="translate(595.39,214.00) scale(1.0063,1)">Days Post-Induction</text>
<text x="0" y="0" font-size="14.9" text-anchor="middle" transform="translate(562.50,130.90) rotate(-90)">Tumor Area (mm<tspan dy="-4.8" font-size="10.6">2</tspan><tspan dy="4.8">)</tspan></text>
<polyline points="730.70,121.70 733.80,121.70 733.80,125.60 730.70,125.60" fill="none" stroke="#000" stroke-width="1.4" stroke-linejoin="miter"/>
<text x="0" y="0" font-size="12.8" font-weight="normal" font-style="italic" transform="translate(738.40,128.30) scale(0.9703,1)">NS</text>
<text x="18.30" y="298.80" font-size="38" text-anchor="start" font-weight="bold" font-style="normal" >C</text>
<line x1="106.20" y1="277.00" x2="119.80" y2="277.00" stroke="#000" stroke-width="1.5"/>
<circle cx="112.80" cy="277.00" r="4.60" fill="#fff" stroke="#000" stroke-width="1.5"/>
<text x="0" y="0" font-size="14.2" font-weight="normal" font-style="normal" transform="translate(126.35,281.30) scale(1.0461,1)">Untreated</text>
<line x1="106.20" y1="294.20" x2="119.80" y2="294.20" stroke="#000" stroke-width="1.5"/>
<circle cx="112.80" cy="294.20" r="4.60" fill="#000" stroke="#000" stroke-width="1.5"/>
<text x="0" y="0" font-size="14.2" font-weight="normal" font-style="normal" transform="translate(126.37,299.40) scale(1.0280,1)">PLX4720</text>
<line x1="106.20" y1="312.80" x2="119.80" y2="312.80" stroke="#000" stroke-width="1.5"/>
<polygon points="112.80,308.67 117.40,317.41 108.20,317.41" fill="#6b6b6b" stroke="#000" stroke-width="1.5" stroke-linejoin="miter"/>
<text x="0" y="0" font-size="14.2" font-weight="normal" font-style="normal" transform="translate(126.85,317.40) scale(1.0540,1)">Depleting antibody (anti-CD8 or CD4)</text>
<line x1="106.20" y1="331.30" x2="119.80" y2="331.30" stroke="#000" stroke-width="1.5"/>
<rect x="108.20" y="326.70" width="9.20" height="9.20" fill="#dedede" stroke="#000" stroke-width="1.5"/>
<text x="0" y="0" font-size="14.2" font-weight="normal" font-style="normal" transform="translate(126.57,335.60) scale(1.0315,1)">PLX4720 + depleting antibody</text>
<rect x="76.60" y="370.40" width="44.30" height="92.50" fill="#dcdcdc"/>
<polyline points="74.90,462.90 90.80,461.07 106.70,460.70 130.55,460.34 154.40,462.90 162.35,462.90 186.20,454.30 194.15,451.19 202.10,446.80 210.05,444.60 218.00,440.94" fill="none" stroke="#000" stroke-width="1.6" stroke-linejoin="round"/>
<polyline points="74.90,461.98 90.80,460.89 106.70,460.52 130.55,460.15 154.40,456.86 162.35,452.29 186.20,442.59 194.15,434.90 202.10,422.09 210.05,417.33 218.00,416.05" fill="none" stroke="#000" stroke-width="1.6" stroke-linejoin="round"/>
<polyline points="74.90,458.69 90.80,457.23 106.70,455.21 130.55,451.19 154.40,445.33 162.35,444.78 186.20,430.69 194.15,424.29 202.10,418.98 210.05,414.40 218.00,410.56" fill="none" stroke="#000" stroke-width="1.6" stroke-linejoin="round"/>
<polyline points="74.90,461.07 90.80,460.52 106.70,460.15 130.55,459.24 154.40,446.43 162.35,443.69 186.20,423.74 194.15,414.59 202.10,406.54 210.05,397.20 218.00,390.80" fill="none" stroke="#000" stroke-width="1.6" stroke-linejoin="round"/>
<line x1="186.20" y1="418.20" x2="186.20" y2="430.00" stroke="#000" stroke-width="1.45"/>
<line x1="181.20" y1="418.20" x2="191.20" y2="418.20" stroke="#000" stroke-width="1.45"/>
<line x1="181.20" y1="430.00" x2="191.20" y2="430.00" stroke="#000" stroke-width="1.45"/>
<line x1="194.15" y1="404.20" x2="194.15" y2="426.00" stroke="#000" stroke-width="1.45"/>
<line x1="189.15" y1="404.20" x2="199.15" y2="404.20" stroke="#000" stroke-width="1.45"/>
<line x1="189.15" y1="426.00" x2="199.15" y2="426.00" stroke="#000" stroke-width="1.45"/>
<line x1="202.10" y1="397.00" x2="202.10" y2="418.00" stroke="#000" stroke-width="1.45"/>
<line x1="197.10" y1="397.00" x2="207.10" y2="397.00" stroke="#000" stroke-width="1.45"/>
<line x1="197.10" y1="418.00" x2="207.10" y2="418.00" stroke="#000" stroke-width="1.45"/>
<line x1="210.05" y1="384.50" x2="210.05" y2="410.00" stroke="#000" stroke-width="1.45"/>
<line x1="205.05" y1="384.50" x2="215.05" y2="384.50" stroke="#000" stroke-width="1.45"/>
<line x1="205.05" y1="410.00" x2="215.05" y2="410.00" stroke="#000" stroke-width="1.45"/>
<line x1="218.00" y1="377.10" x2="218.00" y2="403.50" stroke="#000" stroke-width="1.45"/>
<line x1="213.00" y1="377.10" x2="223.00" y2="377.10" stroke="#000" stroke-width="1.45"/>
<line x1="213.00" y1="403.50" x2="223.00" y2="403.50" stroke="#000" stroke-width="1.45"/>
<line x1="154.40" y1="438.40" x2="154.40" y2="451.00" stroke="#000" stroke-width="1.45"/>
<line x1="149.40" y1="438.40" x2="159.40" y2="438.40" stroke="#000" stroke-width="1.45"/>
<line x1="149.40" y1="451.00" x2="159.40" y2="451.00" stroke="#000" stroke-width="1.45"/>
<line x1="162.35" y1="438.00" x2="162.35" y2="452.00" stroke="#000" stroke-width="1.45"/>
<line x1="157.35" y1="438.00" x2="167.35" y2="438.00" stroke="#000" stroke-width="1.45"/>
<line x1="157.35" y1="452.00" x2="167.35" y2="452.00" stroke="#000" stroke-width="1.45"/>
<line x1="186.20" y1="420.00" x2="186.20" y2="450.00" stroke="#000" stroke-width="1.45"/>
<line x1="181.20" y1="420.00" x2="191.20" y2="420.00" stroke="#000" stroke-width="1.45"/>
<line x1="181.20" y1="450.00" x2="191.20" y2="450.00" stroke="#000" stroke-width="1.45"/>
<line x1="194.15" y1="410.00" x2="194.15" y2="447.00" stroke="#000" stroke-width="1.45"/>
<line x1="189.15" y1="410.00" x2="199.15" y2="410.00" stroke="#000" stroke-width="1.45"/>
<line x1="189.15" y1="447.00" x2="199.15" y2="447.00" stroke="#000" stroke-width="1.45"/>
<line x1="202.10" y1="404.00" x2="202.10" y2="436.00" stroke="#000" stroke-width="1.45"/>
<line x1="197.10" y1="404.00" x2="207.10" y2="404.00" stroke="#000" stroke-width="1.45"/>
<line x1="197.10" y1="436.00" x2="207.10" y2="436.00" stroke="#000" stroke-width="1.45"/>
<line x1="210.05" y1="402.00" x2="210.05" y2="435.00" stroke="#000" stroke-width="1.45"/>
<line x1="205.05" y1="402.00" x2="215.05" y2="402.00" stroke="#000" stroke-width="1.45"/>
<line x1="205.05" y1="435.00" x2="215.05" y2="435.00" stroke="#000" stroke-width="1.45"/>
<line x1="218.00" y1="399.00" x2="218.00" y2="431.50" stroke="#000" stroke-width="1.45"/>
<line x1="213.00" y1="399.00" x2="223.00" y2="399.00" stroke="#000" stroke-width="1.45"/>
<line x1="213.00" y1="431.50" x2="223.00" y2="431.50" stroke="#000" stroke-width="1.45"/>
<line x1="202.10" y1="438.00" x2="202.10" y2="452.00" stroke="#000" stroke-width="1.45"/>
<line x1="197.10" y1="438.00" x2="207.10" y2="438.00" stroke="#000" stroke-width="1.45"/>
<line x1="197.10" y1="452.00" x2="207.10" y2="452.00" stroke="#000" stroke-width="1.45"/>
<line x1="210.05" y1="436.00" x2="210.05" y2="452.00" stroke="#000" stroke-width="1.45"/>
<line x1="205.05" y1="436.00" x2="215.05" y2="436.00" stroke="#000" stroke-width="1.45"/>
<line x1="205.05" y1="452.00" x2="215.05" y2="452.00" stroke="#000" stroke-width="1.45"/>
<line x1="218.00" y1="431.00" x2="218.00" y2="451.00" stroke="#000" stroke-width="1.45"/>
<line x1="213.00" y1="431.00" x2="223.00" y2="431.00" stroke="#000" stroke-width="1.45"/>
<line x1="213.00" y1="451.00" x2="223.00" y2="451.00" stroke="#000" stroke-width="1.45"/>
<circle cx="90.80" cy="460.52" r="4.90" fill="#fff" stroke="#000" stroke-width="1.5"/>
<circle cx="106.70" cy="460.15" r="4.90" fill="#fff" stroke="#000" stroke-width="1.5"/>
<circle cx="130.55" cy="459.24" r="4.90" fill="#fff" stroke="#000" stroke-width="1.5"/>
<circle cx="154.40" cy="446.43" r="4.90" fill="#fff" stroke="#000" stroke-width="1.5"/>
<circle cx="162.35" cy="443.69" r="4.90" fill="#fff" stroke="#000" stroke-width="1.5"/>
<circle cx="186.20" cy="423.74" r="4.90" fill="#fff" stroke="#000" stroke-width="1.5"/>
<circle cx="194.15" cy="414.59" r="4.90" fill="#fff" stroke="#000" stroke-width="1.5"/>
<circle cx="202.10" cy="406.54" r="4.90" fill="#fff" stroke="#000" stroke-width="1.5"/>
<circle cx="210.05" cy="397.20" r="4.90" fill="#fff" stroke="#000" stroke-width="1.5"/>
<circle cx="218.00" cy="390.80" r="4.90" fill="#fff" stroke="#000" stroke-width="1.5"/>
<polygon points="90.80,452.19 95.60,461.31 86.00,461.31" fill="#6b6b6b" stroke="#000" stroke-width="1.5" stroke-linejoin="miter"/>
<polygon points="106.70,450.17 111.50,459.29 101.90,459.29" fill="#6b6b6b" stroke="#000" stroke-width="1.5" stroke-linejoin="miter"/>
<polygon points="130.55,446.15 135.35,455.27 125.75,455.27" fill="#6b6b6b" stroke="#000" stroke-width="1.5" stroke-linejoin="miter"/>
<polygon points="154.40,440.29 159.20,449.41 149.60,449.41" fill="#6b6b6b" stroke="#000" stroke-width="1.5" stroke-linejoin="miter"/>
<polygon points="162.35,439.74 167.15,448.86 157.55,448.86" fill="#6b6b6b" stroke="#000" stroke-width="1.5" stroke-linejoin="miter"/>
<polygon points="186.20,425.65 191.00,434.77 181.40,434.77" fill="#6b6b6b" stroke="#000" stroke-width="1.5" stroke-linejoin="miter"/>
<polygon points="194.15,419.25 198.95,428.37 189.35,428.37" fill="#6b6b6b" stroke="#000" stroke-width="1.5" stroke-linejoin="miter"/>
<polygon points="202.10,413.94 206.90,423.06 197.30,423.06" fill="#6b6b6b" stroke="#000" stroke-width="1.5" stroke-linejoin="miter"/>
<polygon points="210.05,409.36 214.85,418.48 205.25,418.48" fill="#6b6b6b" stroke="#000" stroke-width="1.5" stroke-linejoin="miter"/>
<polygon points="218.00,405.52 222.80,414.64 213.20,414.64" fill="#6b6b6b" stroke="#000" stroke-width="1.5" stroke-linejoin="miter"/>
<circle cx="90.80" cy="461.07" r="4.20" fill="#000" stroke="#000" stroke-width="1.5"/>
<circle cx="106.70" cy="460.70" r="4.20" fill="#000" stroke="#000" stroke-width="1.5"/>
<circle cx="130.55" cy="460.34" r="4.20" fill="#000" stroke="#000" stroke-width="1.5"/>
<circle cx="154.40" cy="462.90" r="4.90" fill="#000" stroke="#000" stroke-width="1.5"/>
<circle cx="162.35" cy="462.90" r="4.90" fill="#000" stroke="#000" stroke-width="1.5"/>
<circle cx="186.20" cy="454.30" r="4.90" fill="#000" stroke="#000" stroke-width="1.5"/>
<circle cx="194.15" cy="451.19" r="4.90" fill="#000" stroke="#000" stroke-width="1.5"/>
<circle cx="202.10" cy="446.80" r="4.90" fill="#000" stroke="#000" stroke-width="1.5"/>
<circle cx="210.05" cy="444.60" r="4.90" fill="#000" stroke="#000" stroke-width="1.5"/>
<circle cx="218.00" cy="440.94" r="4.90" fill="#000" stroke="#000" stroke-width="1.5"/>
<rect x="86.40" y="456.49" width="8.80" height="8.80" fill="#dedede" stroke="#000" stroke-width="1.5"/>
<rect x="102.30" y="456.12" width="8.80" height="8.80" fill="#dedede" stroke="#000" stroke-width="1.5"/>
<rect x="126.15" y="455.75" width="8.80" height="8.80" fill="#dedede" stroke="#000" stroke-width="1.5"/>
<rect x="150.00" y="452.46" width="8.80" height="8.80" fill="#dedede" stroke="#000" stroke-width="1.5"/>
<rect x="157.95" y="447.89" width="8.80" height="8.80" fill="#dedede" stroke="#000" stroke-width="1.5"/>
<rect x="181.80" y="438.19" width="8.80" height="8.80" fill="#dedede" stroke="#000" stroke-width="1.5"/>
<rect x="189.75" y="430.50" width="8.80" height="8.80" fill="#dedede" stroke="#000" stroke-width="1.5"/>
<rect x="197.70" y="417.69" width="8.80" height="8.80" fill="#dedede" stroke="#000" stroke-width="1.5"/>
<rect x="205.65" y="412.93" width="8.80" height="8.80" fill="#dedede" stroke="#000" stroke-width="1.5"/>
<rect x="213.60" y="411.65" width="8.80" height="8.80" fill="#dedede" stroke="#000" stroke-width="1.5"/>
<line x1="74.90" y1="370.60" x2="74.90" y2="470.40" stroke="#000" stroke-width="1.6"/>
<line x1="74.10" y1="462.90" x2="225.96" y2="462.90" stroke="#000" stroke-width="1.6"/>
<line x1="70.90" y1="462.90" x2="74.90" y2="462.90" stroke="#000" stroke-width="1.6"/>
<line x1="70.90" y1="444.60" x2="74.90" y2="444.60" stroke="#000" stroke-width="1.6"/>
<line x1="70.90" y1="426.30" x2="74.90" y2="426.30" stroke="#000" stroke-width="1.6"/>
<line x1="70.90" y1="408.00" x2="74.90" y2="408.00" stroke="#000" stroke-width="1.6"/>
<line x1="70.90" y1="389.70" x2="74.90" y2="389.70" stroke="#000" stroke-width="1.6"/>
<line x1="70.90" y1="371.40" x2="74.90" y2="371.40" stroke="#000" stroke-width="1.6"/>
<text x="0" y="0" font-size="12.3" text-anchor="end" font-weight="normal" font-style="normal" transform="translate(69.10,468.30) scale(0.97,1)" >0</text>
<text x="0" y="0" font-size="12.3" text-anchor="end" font-weight="normal" font-style="normal" transform="translate(69.10,450.00) scale(0.97,1)" >10</text>
<text x="0" y="0" font-size="12.3" text-anchor="end" font-weight="normal" font-style="normal" transform="translate(69.10,431.70) scale(0.97,1)" >20</text>
<text x="0" y="0" font-size="12.3" text-anchor="end" font-weight="normal" font-style="normal" transform="translate(69.10,413.40) scale(0.97,1)" >30</text>
<text x="0" y="0" font-size="12.3" text-anchor="end" font-weight="normal" font-style="normal" transform="translate(69.10,395.10) scale(0.97,1)" >40</text>
<text x="0" y="0" font-size="12.3" text-anchor="end" font-weight="normal" font-style="normal" transform="translate(69.10,376.80) scale(0.97,1)" >50</text>
<line x1="90.80" y1="462.90" x2="90.80" y2="470.40" stroke="#000" stroke-width="1.6"/>
<line x1="130.55" y1="462.90" x2="130.55" y2="470.40" stroke="#000" stroke-width="1.6"/>
<line x1="170.30" y1="462.90" x2="170.30" y2="470.40" stroke="#000" stroke-width="1.6"/>
<line x1="210.05" y1="462.90" x2="210.05" y2="470.40" stroke="#000" stroke-width="1.6"/>
<line x1="82.85" y1="462.90" x2="82.85" y2="466.90" stroke="#000" stroke-width="1.6"/>
<line x1="98.75" y1="462.90" x2="98.75" y2="466.90" stroke="#000" stroke-width="1.6"/>
<line x1="106.70" y1="462.90" x2="106.70" y2="466.90" stroke="#000" stroke-width="1.6"/>
<line x1="114.65" y1="462.90" x2="114.65" y2="466.90" stroke="#000" stroke-width="1.6"/>
<line x1="122.60" y1="462.90" x2="122.60" y2="466.90" stroke="#000" stroke-width="1.6"/>
<line x1="138.50" y1="462.90" x2="138.50" y2="466.90" stroke="#000" stroke-width="1.6"/>
<line x1="146.45" y1="462.90" x2="146.45" y2="466.90" stroke="#000" stroke-width="1.6"/>
<line x1="154.40" y1="462.90" x2="154.40" y2="466.90" stroke="#000" stroke-width="1.6"/>
<line x1="162.35" y1="462.90" x2="162.35" y2="466.90" stroke="#000" stroke-width="1.6"/>
<line x1="178.25" y1="462.90" x2="178.25" y2="466.90" stroke="#000" stroke-width="1.6"/>
<line x1="186.20" y1="462.90" x2="186.20" y2="466.90" stroke="#000" stroke-width="1.6"/>
<line x1="194.15" y1="462.90" x2="194.15" y2="466.90" stroke="#000" stroke-width="1.6"/>
<line x1="202.10" y1="462.90" x2="202.10" y2="466.90" stroke="#000" stroke-width="1.6"/>
<line x1="218.00" y1="462.90" x2="218.00" y2="466.90" stroke="#000" stroke-width="1.6"/>
<text x="90.80" y="484.20" font-size="12.3" text-anchor="middle" font-weight="normal" font-style="normal" >20</text>
<text x="130.55" y="484.20" font-size="12.3" text-anchor="middle" font-weight="normal" font-style="normal" >25</text>
<text x="170.30" y="484.20" font-size="12.3" text-anchor="middle" font-weight="normal" font-style="normal" >30</text>
<text x="210.05" y="484.20" font-size="12.3" text-anchor="middle" font-weight="normal" font-style="normal" >35</text>
<text x="0" y="0" font-size="15.4" font-weight="normal" font-style="normal" transform="translate(111.50,367.60) scale(1.0230,1)">Anti-CD8</text>
<text x="0" y="0" font-size="14.6" font-weight="normal" font-style="normal" transform="translate(83.79,501.00) scale(1.0125,1)">Days Post-Induction</text>
<text x="0" y="0" font-size="15.2" text-anchor="middle" transform="translate(43.80,414.20) rotate(-90)">Tumor Area (mm<tspan dy="-4.8" font-size="10.6">2</tspan><tspan dy="4.8">)</tspan></text>
<polyline points="225.30,415.80 228.90,415.80 228.90,441.30 225.30,441.30" fill="none" stroke="#000" stroke-width="1.4" stroke-linejoin="miter"/>
<text x="0" y="0" font-size="15" font-weight="bold" font-style="normal" transform="translate(230.60,435.00) scale(0.8667,1)">*</text>
<rect x="300.20" y="370.50" width="44.00" height="92.30" fill="#dcdcdc"/>
<polyline points="295.82,462.80 320.27,461.60 332.81,462.80 345.35,462.65 370.43,457.98 382.97,456.63 408.05,444.74 420.59,439.62 433.13,435.41" fill="none" stroke="#000" stroke-width="1.6" stroke-linejoin="round"/>
<polyline points="295.82,462.80 320.27,461.60 332.81,462.80 345.35,462.65 370.43,457.98 382.97,456.63 408.05,444.74 420.59,439.62 433.13,435.41" fill="none" stroke="#000" stroke-width="1.6" stroke-linejoin="round"/>
<polyline points="295.82,462.80 320.27,462.20 332.81,460.39 345.35,453.92 370.43,443.84 382.97,437.82 408.05,419.16 420.59,408.62 433.13,392.06" fill="none" stroke="#000" stroke-width="1.6" stroke-linejoin="round"/>
<polyline points="295.82,462.80 320.27,461.90 332.81,459.04 345.35,456.78 370.43,446.55 382.97,440.83 408.05,420.96 420.59,402.30 433.13,389.96" fill="none" stroke="#000" stroke-width="1.6" stroke-linejoin="round"/>
<line x1="408.05" y1="414.60" x2="408.05" y2="426.30" stroke="#000" stroke-width="1.45"/>
<line x1="403.05" y1="414.60" x2="413.05" y2="414.60" stroke="#000" stroke-width="1.45"/>
<line x1="403.05" y1="426.30" x2="413.05" y2="426.30" stroke="#000" stroke-width="1.45"/>
<line x1="420.59" y1="394.70" x2="420.59" y2="414.60" stroke="#000" stroke-width="1.45"/>
<line x1="415.59" y1="394.70" x2="425.59" y2="394.70" stroke="#000" stroke-width="1.45"/>
<line x1="415.59" y1="414.60" x2="425.59" y2="414.60" stroke="#000" stroke-width="1.45"/>
<line x1="433.13" y1="374.80" x2="433.13" y2="396.10" stroke="#000" stroke-width="1.45"/>
<line x1="428.13" y1="374.80" x2="438.13" y2="374.80" stroke="#000" stroke-width="1.45"/>
<line x1="428.13" y1="396.10" x2="438.13" y2="396.10" stroke="#000" stroke-width="1.45"/>
<line x1="420.59" y1="397.00" x2="420.59" y2="412.00" stroke="#000" stroke-width="1.45"/>
<line x1="415.59" y1="397.00" x2="425.59" y2="397.00" stroke="#000" stroke-width="1.45"/>
<line x1="415.59" y1="412.00" x2="425.59" y2="412.00" stroke="#000" stroke-width="1.45"/>
<line x1="433.13" y1="383.30" x2="433.13" y2="399.50" stroke="#000" stroke-width="1.45"/>
<line x1="428.13" y1="383.30" x2="438.13" y2="383.30" stroke="#000" stroke-width="1.45"/>
<line x1="428.13" y1="399.50" x2="438.13" y2="399.50" stroke="#000" stroke-width="1.45"/>
<polygon points="320.27,457.16 325.07,466.28 315.47,466.28" fill="#6b6b6b" stroke="#000" stroke-width="1.5" stroke-linejoin="miter"/>
<polygon points="332.81,455.35 337.61,464.47 328.01,464.47" fill="#6b6b6b" stroke="#000" stroke-width="1.5" stroke-linejoin="miter"/>
<polygon points="345.35,448.88 350.15,458.00 340.55,458.00" fill="#6b6b6b" stroke="#000" stroke-width="1.5" stroke-linejoin="miter"/>
<polygon points="370.43,438.80 375.23,447.92 365.63,447.92" fill="#6b6b6b" stroke="#000" stroke-width="1.5" stroke-linejoin="miter"/>
<polygon points="382.97,432.78 387.77,441.90 378.17,441.90" fill="#6b6b6b" stroke="#000" stroke-width="1.5" stroke-linejoin="miter"/>
<polygon points="408.05,414.12 412.85,423.24 403.25,423.24" fill="#6b6b6b" stroke="#000" stroke-width="1.5" stroke-linejoin="miter"/>
<polygon points="420.59,403.58 425.39,412.70 415.79,412.70" fill="#6b6b6b" stroke="#000" stroke-width="1.5" stroke-linejoin="miter"/>
<polygon points="433.13,387.02 437.93,396.14 428.33,396.14" fill="#6b6b6b" stroke="#000" stroke-width="1.5" stroke-linejoin="miter"/>
<circle cx="320.27" cy="461.90" r="4.90" fill="#fff" stroke="#000" stroke-width="1.5"/>
<circle cx="332.81" cy="459.04" r="4.90" fill="#fff" stroke="#000" stroke-width="1.5"/>
<circle cx="345.35" cy="456.78" r="4.90" fill="#fff" stroke="#000" stroke-width="1.5"/>
<circle cx="370.43" cy="446.55" r="4.90" fill="#fff" stroke="#000" stroke-width="1.5"/>
<circle cx="382.97" cy="440.83" r="4.90" fill="#fff" stroke="#000" stroke-width="1.5"/>
<circle cx="408.05" cy="420.96" r="4.90" fill="#fff" stroke="#000" stroke-width="1.5"/>
<circle cx="420.59" cy="402.30" r="4.90" fill="#fff" stroke="#000" stroke-width="1.5"/>
<circle cx="433.13" cy="389.96" r="4.90" fill="#fff" stroke="#000" stroke-width="1.5"/>
<rect x="315.57" y="456.90" width="9.40" height="9.40" fill="#dedede" stroke="#000" stroke-width="1.5"/>
<rect x="328.11" y="458.10" width="9.40" height="9.40" fill="#dedede" stroke="#000" stroke-width="1.5"/>
<rect x="340.65" y="457.95" width="9.40" height="9.40" fill="#dedede" stroke="#000" stroke-width="1.5"/>
<rect x="365.73" y="453.28" width="9.40" height="9.40" fill="#dedede" stroke="#000" stroke-width="1.5"/>
<rect x="378.27" y="451.93" width="9.40" height="9.40" fill="#dedede" stroke="#000" stroke-width="1.5"/>
<rect x="403.35" y="440.04" width="9.40" height="9.40" fill="#dedede" stroke="#000" stroke-width="1.5"/>
<rect x="415.89" y="434.92" width="9.40" height="9.40" fill="#dedede" stroke="#000" stroke-width="1.5"/>
<rect x="428.43" y="430.71" width="9.40" height="9.40" fill="#dedede" stroke="#000" stroke-width="1.5"/>
<circle cx="320.27" cy="461.60" r="4.30" fill="#000" stroke="#000" stroke-width="1.5"/>
<circle cx="332.81" cy="462.80" r="4.30" fill="#000" stroke="#000" stroke-width="1.5"/>
<circle cx="345.35" cy="462.65" r="4.30" fill="#000" stroke="#000" stroke-width="1.5"/>
<circle cx="370.43" cy="457.98" r="4.30" fill="#000" stroke="#000" stroke-width="1.5"/>
<circle cx="382.97" cy="456.63" r="4.30" fill="#000" stroke="#000" stroke-width="1.5"/>
<circle cx="408.05" cy="444.74" r="4.30" fill="#000" stroke="#000" stroke-width="1.5"/>
<circle cx="420.59" cy="439.62" r="4.30" fill="#000" stroke="#000" stroke-width="1.5"/>
<circle cx="433.13" cy="435.41" r="4.30" fill="#000" stroke="#000" stroke-width="1.5"/>
<line x1="295.19" y1="371.70" x2="295.19" y2="470.30" stroke="#000" stroke-width="1.6"/>
<line x1="294.39" y1="462.80" x2="442.71" y2="462.80" stroke="#000" stroke-width="1.6"/>
<line x1="291.19" y1="462.80" x2="295.19" y2="462.80" stroke="#000" stroke-width="1.6"/>
<line x1="291.19" y1="432.70" x2="295.19" y2="432.70" stroke="#000" stroke-width="1.6"/>
<line x1="291.19" y1="402.60" x2="295.19" y2="402.60" stroke="#000" stroke-width="1.6"/>
<line x1="291.19" y1="372.50" x2="295.19" y2="372.50" stroke="#000" stroke-width="1.6"/>
<text x="0" y="0" font-size="12.3" text-anchor="end" font-weight="normal" font-style="normal" transform="translate(289.39,468.20) scale(0.97,1)" >0</text>
<text x="0" y="0" font-size="12.3" text-anchor="end" font-weight="normal" font-style="normal" transform="translate(289.39,438.10) scale(0.97,1)" >10</text>
<text x="0" y="0" font-size="12.3" text-anchor="end" font-weight="normal" font-style="normal" transform="translate(289.39,408.00) scale(0.97,1)" >20</text>
<text x="0" y="0" font-size="12.3" text-anchor="end" font-weight="normal" font-style="normal" transform="translate(289.39,377.90) scale(0.97,1)" >30</text>
<line x1="314.00" y1="462.80" x2="314.00" y2="470.30" stroke="#000" stroke-width="1.6"/>
<line x1="345.35" y1="462.80" x2="345.35" y2="470.30" stroke="#000" stroke-width="1.6"/>
<line x1="376.70" y1="462.80" x2="376.70" y2="470.30" stroke="#000" stroke-width="1.6"/>
<line x1="408.05" y1="462.80" x2="408.05" y2="470.30" stroke="#000" stroke-width="1.6"/>
<line x1="439.40" y1="462.80" x2="439.40" y2="470.30" stroke="#000" stroke-width="1.6"/>
<line x1="301.46" y1="462.80" x2="301.46" y2="466.80" stroke="#000" stroke-width="1.6"/>
<line x1="307.73" y1="462.80" x2="307.73" y2="466.80" stroke="#000" stroke-width="1.6"/>
<line x1="320.27" y1="462.80" x2="320.27" y2="466.80" stroke="#000" stroke-width="1.6"/>
<line x1="326.54" y1="462.80" x2="326.54" y2="466.80" stroke="#000" stroke-width="1.6"/>
<line x1="332.81" y1="462.80" x2="332.81" y2="466.80" stroke="#000" stroke-width="1.6"/>
<line x1="339.08" y1="462.80" x2="339.08" y2="466.80" stroke="#000" stroke-width="1.6"/>
<line x1="351.62" y1="462.80" x2="351.62" y2="466.80" stroke="#000" stroke-width="1.6"/>
<line x1="357.89" y1="462.80" x2="357.89" y2="466.80" stroke="#000" stroke-width="1.6"/>
<line x1="364.16" y1="462.80" x2="364.16" y2="466.80" stroke="#000" stroke-width="1.6"/>
<line x1="370.43" y1="462.80" x2="370.43" y2="466.80" stroke="#000" stroke-width="1.6"/>
<line x1="382.97" y1="462.80" x2="382.97" y2="466.80" stroke="#000" stroke-width="1.6"/>
<line x1="389.24" y1="462.80" x2="389.24" y2="466.80" stroke="#000" stroke-width="1.6"/>
<line x1="395.51" y1="462.80" x2="395.51" y2="466.80" stroke="#000" stroke-width="1.6"/>
<line x1="401.78" y1="462.80" x2="401.78" y2="466.80" stroke="#000" stroke-width="1.6"/>
<line x1="414.32" y1="462.80" x2="414.32" y2="466.80" stroke="#000" stroke-width="1.6"/>
<line x1="420.59" y1="462.80" x2="420.59" y2="466.80" stroke="#000" stroke-width="1.6"/>
<line x1="426.86" y1="462.80" x2="426.86" y2="466.80" stroke="#000" stroke-width="1.6"/>
<line x1="433.13" y1="462.80" x2="433.13" y2="466.80" stroke="#000" stroke-width="1.6"/>
<text x="314.00" y="484.10" font-size="12.3" text-anchor="middle" font-weight="normal" font-style="normal" >20</text>
<text x="345.35" y="484.10" font-size="12.3" text-anchor="middle" font-weight="normal" font-style="normal" >25</text>
<text x="376.70" y="484.10" font-size="12.3" text-anchor="middle" font-weight="normal" font-style="normal" >30</text>
<text x="408.05" y="484.10" font-size="12.3" text-anchor="middle" font-weight="normal" font-style="normal" >35</text>
<text x="439.40" y="484.10" font-size="12.3" text-anchor="middle" font-weight="normal" font-style="normal" >40</text>
<text x="0" y="0" font-size="15.4" font-weight="normal" font-style="normal" transform="translate(350.20,367.70) scale(1.0211,1)">Anti-CD4</text>
<text x="0" y="0" font-size="14.6" font-weight="normal" font-style="normal" transform="translate(303.69,501.10) scale(1.0087,1)">Days Post-Induction</text>
<text x="0" y="0" font-size="12.8" font-weight="normal" font-style="italic" transform="translate(437.70,392.10) scale(1.0142,1)">NS</text>
<text x="0" y="0" font-size="12.8" font-weight="normal" font-style="italic" transform="translate(437.70,440.40) scale(1.0142,1)">NS</text>
<polyline points="458.90,385.60 462.00,385.60 462.00,436.30 458.90,436.30" fill="none" stroke="#000" stroke-width="1.4" stroke-linejoin="miter"/>
<text x="0" y="0" font-size="14" font-weight="bold" font-style="normal" transform="translate(465.90,416.40) scale(0.9410,1)">***</text>
<text x="545.00" y="298.30" font-size="38" text-anchor="start" font-weight="bold" font-style="normal" >D</text>
<line x1="595.90" y1="344.50" x2="595.90" y2="426.70" stroke="#000" stroke-width="1.6"/>
<line x1="595.10" y1="425.90" x2="717.00" y2="425.90" stroke="#000" stroke-width="1.6"/>
<line x1="592.00" y1="425.90" x2="595.90" y2="425.90" stroke="#000" stroke-width="1.6"/>
<text x="0" y="0" font-size="12.3" text-anchor="end" font-weight="normal" font-style="normal" transform="translate(591.50,430.60) scale(0.92,1)" >0</text>
<line x1="592.00" y1="405.75" x2="595.90" y2="405.75" stroke="#000" stroke-width="1.6"/>
<text x="0" y="0" font-size="12.3" text-anchor="end" font-weight="normal" font-style="normal" transform="translate(591.50,410.45) scale(0.92,1)" >20</text>
<line x1="592.00" y1="385.60" x2="595.90" y2="385.60" stroke="#000" stroke-width="1.6"/>
<text x="0" y="0" font-size="12.3" text-anchor="end" font-weight="normal" font-style="normal" transform="translate(591.50,390.30) scale(0.92,1)" >40</text>
<line x1="592.00" y1="365.45" x2="595.90" y2="365.45" stroke="#000" stroke-width="1.6"/>
<text x="0" y="0" font-size="12.3" text-anchor="end" font-weight="normal" font-style="normal" transform="translate(591.50,370.15) scale(0.92,1)" >60</text>
<line x1="592.00" y1="345.30" x2="595.90" y2="345.30" stroke="#000" stroke-width="1.6"/>
<text x="0" y="0" font-size="12.3" text-anchor="end" font-weight="normal" font-style="normal" transform="translate(591.50,350.00) scale(0.92,1)" >80</text>
<text x="0" y="0" font-size="13.0" font-weight="normal" font-style="normal" transform="translate(594.89,440.20) scale(1.0114,1)">Untreated</text>
<text x="0" y="0" font-size="13.0" font-weight="normal" font-style="normal" transform="translate(663.19,440.20) scale(1.0103,1)">PLX4720</text>
<circle cx="626.3" cy="354.5" r="4.15" fill="#000"/>
<circle cx="639.2" cy="360.0" r="4.15" fill="#000"/>
<circle cx="613.5" cy="367.5" r="4.15" fill="#000"/>
<circle cx="626.2" cy="369.3" r="4.15" fill="#000"/>
<circle cx="632.8" cy="377.2" r="4.15" fill="#000"/>
<circle cx="619.9" cy="387.2" r="4.15" fill="#000"/>
<line x1="606.10" y1="369.00" x2="646.60" y2="369.00" stroke="#000" stroke-width="1.6"/>
<circle cx="680.7" cy="391.5" r="4.2" fill="#fff" stroke="#000" stroke-width="1.35"/>
<circle cx="686.9" cy="373.8" r="4.2" fill="#fff" stroke="#000" stroke-width="1.35"/>
<circle cx="693.5" cy="387.2" r="4.2" fill="#fff" stroke="#000" stroke-width="1.35"/>
<circle cx="676.1" cy="397.2" r="4.2" fill="#fff" stroke="#000" stroke-width="1.35"/>
<circle cx="697.5" cy="396.6" r="4.2" fill="#fff" stroke="#000" stroke-width="1.35"/>
<circle cx="690.7" cy="398.1" r="4.2" fill="#fff" stroke="#000" stroke-width="1.35"/>
<circle cx="683.4" cy="399.8" r="4.2" fill="#fff" stroke="#000" stroke-width="1.35"/>
<line x1="667.10" y1="392.30" x2="706.70" y2="392.30" stroke="#000" stroke-width="1.6"/>
<polyline points="626.00,346.40 626.00,342.60 687.30,342.60 687.30,346.40" fill="none" stroke="#000" stroke-width="1.5" stroke-linejoin="miter"/>
<text x="0" y="0" font-size="13" font-weight="bold" font-style="normal" transform="translate(653.90,345.30) scale(0.9042,1)">**</text>
<text x="0" y="0" font-size="13" textLength="93" lengthAdjust="spacingAndGlyphs" transform="translate(555.7,430.6) rotate(-90)">%of CD45<tspan dy="-5" font-size="9">+</tspan><tspan dy="5"> that</tspan></text>
<text x="0" y="0" font-size="13" textLength="92.9" lengthAdjust="spacingAndGlyphs" transform="translate(573.0,434.1) rotate(-90)">are CD11b<tspan dy="-5" font-size="9">+</tspan><tspan dy="5">Gr-1</tspan></text>
<text x="0" y="0" font-size="9" transform="translate(567.8,333.6) rotate(-90)">+</text>
</g></svg>
</body></html>
